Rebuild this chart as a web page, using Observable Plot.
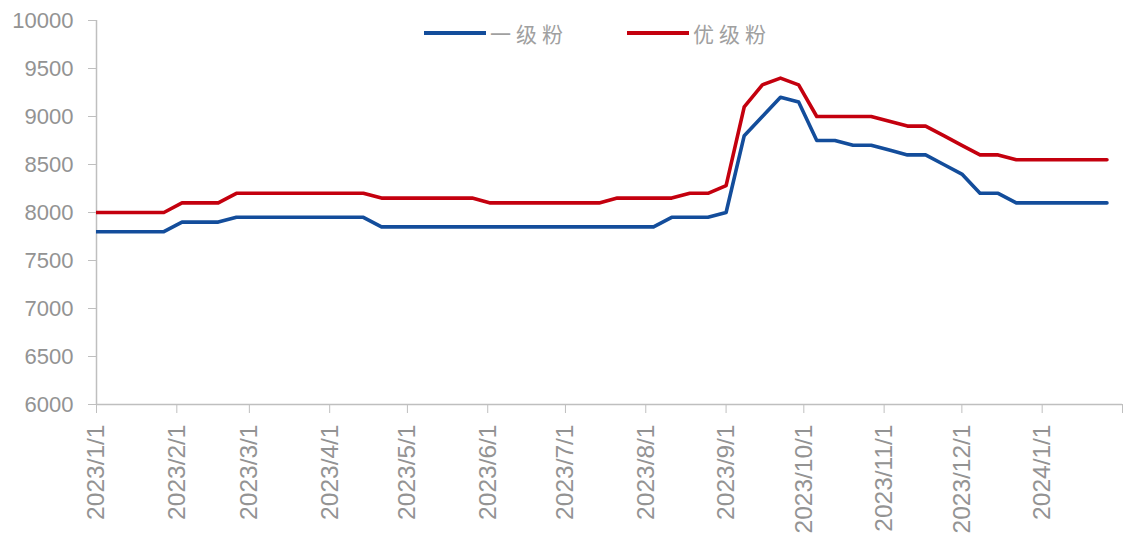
<!DOCTYPE html>
<html>
<head>
<meta charset="utf-8">
<script src="https://cdn.jsdelivr.net/npm/d3@7"></script>
<script src="https://cdn.jsdelivr.net/npm/@observablehq/plot@0.6"></script>
<style>
  body { margin: 0; background: #fff; }
  #wrap { position: relative; width: 1123px; height: 539px; overflow: hidden; }
  #legend { position: absolute; top: 18px; left: 0; width: 1123px; height: 30px; font-family: "Noto Sans CJK SC", sans-serif; font-size: 21px; color: #a0a0a0; }
  .item { position: absolute; top: 0; display: flex; align-items: center; height: 30px; letter-spacing: 5px; }
  .sw { display: inline-block; width: 62px; height: 4px; margin-right: 4px; }
</style>
</head>
<body>
<div id="wrap">
  <div id="chart"></div>
  <div id="legend"></div>
</div>
<script>
const dates = [
  "2022-12-30","2023-01-06","2023-01-13","2023-01-20","2023-01-27",
  "2023-02-03","2023-02-10","2023-02-17","2023-02-24",
  "2023-03-03","2023-03-10","2023-03-17","2023-03-24","2023-03-31",
  "2023-04-07","2023-04-14","2023-04-21","2023-04-28",
  "2023-05-05","2023-05-12","2023-05-19","2023-05-26",
  "2023-06-02","2023-06-09","2023-06-16","2023-06-23","2023-06-30",
  "2023-07-07","2023-07-14","2023-07-21","2023-07-28",
  "2023-08-04","2023-08-11","2023-08-18","2023-08-25",
  "2023-09-01","2023-09-08","2023-09-15","2023-09-22","2023-09-29",
  "2023-10-06","2023-10-13","2023-10-20","2023-10-27",
  "2023-11-03","2023-11-10","2023-11-17","2023-11-24",
  "2023-12-01","2023-12-08","2023-12-15","2023-12-22","2023-12-29",
  "2024-01-05","2024-01-12","2024-01-19","2024-01-26"
];
const grade1 = [
  7800,7800,7800,7800,7800,
  7900,7900,7900,7950,
  7950,7950,7950,7950,7950,
  7950,7950,7850,7850,
  7850,7850,7850,7850,
  7850,7850,7850,7850,7850,
  7850,7850,7850,7850,
  7850,7950,7950,7950,
  8000,8800,9000,9200,9150,
  8750,8750,8700,8700,
  8650,8600,8600,8500,
  8400,8200,8200,8100,8100,
  8100,8100,8100,8100
];
const premium = [
  8000,8000,8000,8000,8000,
  8100,8100,8100,8200,
  8200,8200,8200,8200,8200,
  8200,8200,8150,8150,
  8150,8150,8150,8150,
  8100,8100,8100,8100,8100,
  8100,8100,8150,8150,
  8150,8150,8200,8200,
  8280,9100,9330,9400,9330,
  9000,9000,9000,9000,
  8950,8900,8900,8800,
  8700,8600,8600,8550,8550,
  8550,8550,8550,8550
];
const seriesNames = ["一级粉", "优级粉"];
const seriesColors = ["#134d9b", "#c4000e"];
const yTicks = [6000,6500,7000,7500,8000,8500,9000,9500,10000];
const xTickDates = ["2023-01-01","2023-02-01","2023-03-01","2023-04-01","2023-05-01","2023-06-01","2023-07-01","2023-08-01","2023-09-01","2023-10-01","2023-11-01","2023-12-01","2024-01-01"];
const xDomain = ["2023-01-01","2024-02-01"];

const rows = [];
dates.forEach((d, i) => {
  rows.push({date: new Date(d), value: grade1[i], series: seriesNames[0]});
  rows.push({date: new Date(d), value: premium[i], series: seriesNames[1]});
});

const axisColor = "#bfbfbf";
const textColor = "#939393";

const chart = Plot.plot({
  width: 1123,
  height: 539,
  marginLeft: 96,
  marginRight: 1,
  marginTop: 20,
  marginBottom: 135,
  style: {fontFamily: "Liberation Sans, Arial, sans-serif", background: "#fff"},
  x: {type: "utc", domain: xDomain.map(d => new Date(d))},
  y: {domain: [6000, 10000]},
  color: {domain: seriesNames, range: seriesColors},
  marks: [
    Plot.axisY({
      ticks: yTicks, tickSize: 8, tickPadding: 15,
      tickFormat: d => String(d), fontSize: 22, color: textColor, stroke: axisColor, label: null
    }),
    Plot.axisX({
      ticks: [...xTickDates, xDomain[1]].map(d => new Date(d)),
      tickSize: 9, tickRotate: -90, tickPadding: 11,
      tickFormat: d => (+d === +new Date(xDomain[1])) ? "" : `${d.getUTCFullYear()}/${d.getUTCMonth()+1}/${d.getUTCDate()}`,
      fontSize: 24.5, color: textColor, stroke: axisColor, label: null
    }),
    Plot.ruleX([new Date(xDomain[0])], {stroke: axisColor, strokeWidth: 1.5}),
    Plot.ruleY([6000], {stroke: axisColor, strokeWidth: 1.5}),
    Plot.line(rows, {x: "date", y: "value", z: "series", stroke: "series", strokeWidth: 3.6, clip: true, strokeLinejoin: "round"})
  ]
});
document.getElementById("chart").appendChild(chart);

const legend = document.getElementById("legend");
const lx = [424, 627];
seriesNames.forEach((n, i) => {
  const it = document.createElement("div");
  it.className = "item";
  it.style.left = lx[i] + "px";
  it.innerHTML = `<span class="sw" style="background:${seriesColors[i]}"></span><span>${n}</span>`;
  legend.appendChild(it);
});
</script>
</body>
</html>
